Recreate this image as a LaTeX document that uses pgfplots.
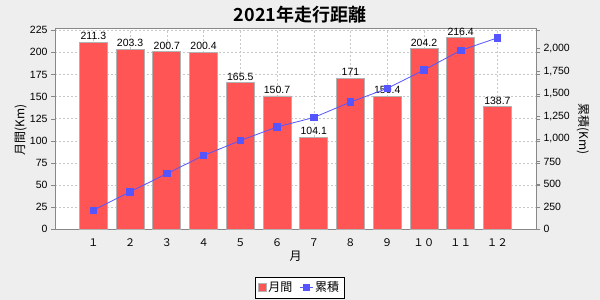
\documentclass[border=0pt]{standalone}
\usepackage{fontspec}
\setmainfont{Liberation Sans}
\newfontfamily\cjk{Noto Sans CJK JP}
\newfontfamily\cjkb{Noto Sans CJK JP Bold}
\usepackage{pgfplots}
\pgfplotsset{compat=1.18}
\definecolor{bgc}{HTML}{EEEEEE}
\definecolor{barred}{HTML}{FF5555}
\definecolor{lineblue}{HTML}{5555FF}
\definecolor{gridc}{HTML}{C8C8C8}
\definecolor{axc}{HTML}{888888}
\pgfplotsset{
  mylineleg/.style={legend image code/.code={\draw[mark repeat=2,mark phase=2,##1] plot coordinates {(0bp,0bp) (6.5bp,0bp) (13bp,0bp)};}},
  mybarleg/.style={legend image code/.code={\draw[fill=barred,draw=black!30,line width=0.8bp] (0bp,-3.7bp) rectangle (7.4bp,3.7bp);}}
}
\begin{document}
\begin{tikzpicture}
\useasboundingbox (0,0) rectangle (600bp,300bp);
\fill[bgc] (0,0) rectangle (600bp,300bp);
\begin{axis}[
  at={(55bp,70.7bp)}, anchor=south west,
  scale only axis, width=481bp, height=201bp,
  axis background/.style={fill=white},
  xmin=-0.044, xmax=13.05, ymin=0, ymax=227.2,
  xtick={1,2,3,4,5,6,7,8,9,10,11,12},
  xticklabels={１,２,３,４,５,６,７,８,９,１０,１１,１２},
  xticklabel style={font=\cjk\fontsize{10.5bp}{12bp}\selectfont, yshift=-2bp},
  ytick={0,25,...,225},
  yticklabel style={font=\fontsize{10.5bp}{12bp}\selectfont},
  /pgf/number format/assume math mode=true,
  tick align=outside, major tick length=4bp,
  xtick style={draw=none},
  ytick style={draw=axc},
  axis line style={draw=axc},
  ymajorgrids, xmajorgrids,
  major grid style={draw=gridc, dash pattern=on 2bp off 2bp, line width=0.5bp},
  ybar, bar width=0.76,
  nodes near coords,
  nodes near coords style={font=\fontsize{10.5bp}{12bp}\selectfont, inner sep=1.5bp, yshift=0.5bp},
]
\addplot[fill=barred, draw=black!30, line width=0.8bp] coordinates {
 (1,211.3) (2,203.3) (3,200.7) (4,200.4) (5,165.5) (6,150.7)
 (7,104.1) (8,171) (9,150.4) (10,204.2) (11,216.4) (12,138.7)};
\end{axis}
\begin{axis}[
  at={(55bp,70.7bp)}, anchor=south west,
  scale only axis, width=481bp, height=201bp,
  xmin=-0.044, xmax=13.05, ymin=0, ymax=2222.5,
  axis x line=none, axis y line*=right,
  ytick={0,250,...,2000},
  scaled y ticks=false,
  /pgf/number format/1000 sep={,},
  /pgf/number format/assume math mode=true,
  yticklabel style={font=\fontsize{10.5bp}{12bp}\selectfont},
  tick align=outside, major tick length=4bp,
  ytick style={draw=axc},
  axis line style={draw=axc},
  legend style={at={(axis description cs:0.5087,-0.2896)}, anchor=center,
    draw=black, fill=white, font=\cjk\fontsize{12bp}{14bp}\selectfont,
    legend columns=2, inner xsep=3bp, inner ysep=2.5bp,
    /tikz/every even column/.append style={column sep=5bp}},
]
\addlegendimage{mybarleg}
\addlegendentry{月間}
\addplot[color=lineblue, line width=0.8bp, mark=square*, mark size=3.2bp, mylineleg]
 coordinates {
 (1,211.3) (2,414.6) (3,615.3) (4,815.7) (5,981.2) (6,1131.9)
 (7,1236.0) (8,1407.0) (9,1557.4) (10,1761.6) (11,1978.0) (12,2116.7)};
\addlegendentry{累積}
\end{axis}
\node[font=\cjkb\fontsize{18bp}{20bp}\selectfont] at (300bp,285bp) {2021年走行距離};
\node[font=\cjk\fontsize{12bp}{14bp}\selectfont, rotate=90] at (20.7bp,170bp) {月間(Km)};
\node[font=\cjk\fontsize{12bp}{14bp}\selectfont, rotate=-90] at (583bp,171bp) {累積(Km)};
\node[font=\cjk\fontsize{12bp}{14bp}\selectfont] at (295.5bp,43.3bp) {月};
\end{tikzpicture}
\end{document}
